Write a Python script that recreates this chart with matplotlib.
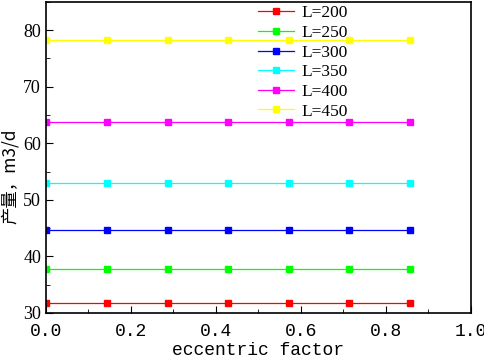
import matplotlib
matplotlib.use("Agg")
import matplotlib.pyplot as plt
from matplotlib.ticker import MultipleLocator

x = [0.0, 0.143, 0.286, 0.429, 0.571, 0.714, 0.857]
labels = ["L=200", "L=250", "L=300", "L=350", "L=400", "L=450"]
values = [
    [31.8] * 7,
    [37.7] * 7,
    [44.6] * 7,
    [53.0] * 7,
    [63.8] * 7,
    [78.3] * 7,
]
colors = ["#ff0000", "#00ff00", "#0000ff", "#00ffff", "#ff00ff", "#ffff00"]

plt.rcParams['font.family'] = ['Liberation Serif', 'Noto Sans CJK SC']
fig = plt.figure(figsize=(4.84, 3.61), dpi=100)
ax = fig.add_axes([0.095, 0.133, 0.878, 0.862])

for lab, v, c in zip(labels, values, colors):
    ax.plot(x, v, color=c, lw=0.9, marker='s', markersize=4.6, label=lab)

ax.set_xlim(0, 1.0)
ax.set_ylim(30, 85)
ax.xaxis.set_major_locator(MultipleLocator(0.2))
ax.xaxis.set_minor_locator(MultipleLocator(0.1))
ax.yaxis.set_major_locator(MultipleLocator(10))
ax.yaxis.set_minor_locator(MultipleLocator(5))
ax.tick_params(which='both', direction='in', top=False, right=False, labelsize=13)
ax.tick_params(which='major', length=5)
ax.tick_params(which='minor', length=3)
ax.tick_params(axis='x', pad=7)
ax.set_xticklabels([f"{t:.1f}" for t in ax.get_xticks()], family=['Liberation Mono'])
for s in ax.spines.values():
    s.set_linewidth(1.2)

ax.set_xlabel("eccentric factor", fontsize=13, family=['Liberation Mono'], labelpad=2)
ax.set_ylabel("产量，m3/d", fontsize=12.5, family=['Noto Sans CJK SC', 'Liberation Serif'])
ax.yaxis.set_label_coords(-0.063, 0.44)

ax.legend(loc='upper left', bbox_to_anchor=(0.49, 1.0), frameon=False, fontsize=12.5,
          handlelength=2.1, handletextpad=0.4, labelspacing=0.2, borderaxespad=0.1,
          borderpad=0.1)
fig.savefig("out.png", dpi=100)
